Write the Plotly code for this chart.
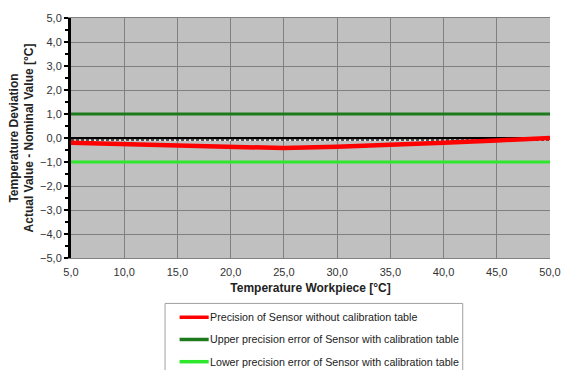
import plotly.graph_objects as go

# Workpiece temperature [°C]
temperature = [5, 10, 15, 20, 25, 30, 35, 40, 45, 50]
# Deviation of the sensor without calibration table [°C]
deviation_uncal = [-0.20, -0.26, -0.32, -0.37, -0.42, -0.36, -0.30, -0.20, -0.10, 0.0]
# Precision limits of the sensor with calibration table [°C]
upper_limit = [1.0] * len(temperature)
lower_limit = [-1.0] * len(temperature)

x_ticks = [5, 10, 15, 20, 25, 30, 35, 40, 45, 50]
y_ticks = [-5, -4, -3, -2, -1, 0, 1, 2, 3, 4, 5]

series_names = [
    "Precision of Sensor without calibration table",
    "Upper precision error of Sensor with calibration table",
    "Lower precision error of Sensor with calibration table",
]
series_values = [deviation_uncal, upper_limit, lower_limit]
series_colors = ["#ff0000", "#1c7a1c", "#2ee82e"]
series_widths = [4.5, 3, 3]

font = "Liberation Sans, Arial, sans-serif"
W, H = 573, 370
ML, MR, MT, MB = 66, 13, 15, 112
plot_w = W - ML - MR
plot_h = H - MT - MB


def px_x(px):
    return (px - ML) / plot_w


def px_y(py):
    return (H - MB - py) / plot_h


fig = go.Figure()

# dashed band just under the zero axis
fig.add_trace(go.Scatter(
    x=[x_ticks[0], x_ticks[-1]], y=[-0.08, -0.08], mode="lines",
    line=dict(color="white", width=1.5),
    showlegend=False, hoverinfo="skip"))
fig.add_trace(go.Scatter(
    x=[x_ticks[0], x_ticks[-1]], y=[-0.08, -0.08], mode="lines",
    line=dict(color="#222222", width=1.5, dash="3px,2px"),
    showlegend=False, hoverinfo="skip"))

for name, vals, col, w in zip(series_names, series_values, series_colors, series_widths):
    fig.add_trace(go.Scatter(
        x=temperature, y=vals, mode="lines", name=name,
        line=dict(color=col, width=w), showlegend=False))

# legend box below the plot (allowed to run past the bottom edge)
shapes = [dict(type="rect", xref="paper", yref="paper",
               x0=px_x(163), x1=px_x(470), y0=px_y(380), y1=px_y(304),
               line=dict(color="#a0a0a0", width=1), fillcolor="white", layer="above")]
annotations = []
for i, (name, col) in enumerate(zip(series_names, series_colors)):
    yy = px_y(318 + 22.5 * i)
    shapes.append(dict(type="line", xref="paper", yref="paper",
                       x0=px_x(178), x1=px_x(208), y0=yy, y1=yy,
                       line=dict(color=col, width=3.5), layer="above"))
    annotations.append(dict(xref="paper", yref="paper", x=px_x(207), y=yy,
                            xanchor="left", yanchor="middle", showarrow=False,
                            text=name, font=dict(family=font, size=10.7, color="#222222")))

fig.update_layout(
    width=W, height=H,
    margin=dict(l=ML, r=MR, t=MT, b=MB),
    paper_bgcolor="white",
    plot_bgcolor="#c0c0c0",
    separators=",.",
    font=dict(family=font, size=10, color="#333333"),
    showlegend=False,
    shapes=shapes,
    annotations=annotations,
)

fig.update_xaxes(
    range=[5, 50], tickvals=x_ticks, tickformat=".1f",
    showgrid=True, gridcolor="#808080", gridwidth=1,
    zeroline=False, showline=True, linecolor="#808080", mirror=True,
    ticks="", ticklabelstandoff=4, tickfont=dict(size=11, color="#333333"),
    title=dict(text="<b>Temperature Workpiece [°C]</b>",
               font=dict(size=12, color="#222222"), standoff=6),
)
fig.update_yaxes(
    range=[-5, 5], tickvals=y_ticks, tickformat=".1f",
    showgrid=True, gridcolor="#808080", gridwidth=1,
    zeroline=True, zerolinecolor="black", zerolinewidth=2.5,
    showline=True, linecolor="black", linewidth=3,
    ticks="outside", ticklen=4, tickwidth=2, tickcolor="black",
    minor=dict(ticks="outside", ticklen=3, tickwidth=1.5, tickcolor="black", dtick=0.5, showgrid=False),
    tickfont=dict(size=11, color="#333333"),
    title=dict(text="<b>Temperature Deviation<br>Actual Value - Nominal Value [°C]</b>",
               font=dict(size=12, color="#222222"), standoff=4),
)

fig.write_html("out.html")
